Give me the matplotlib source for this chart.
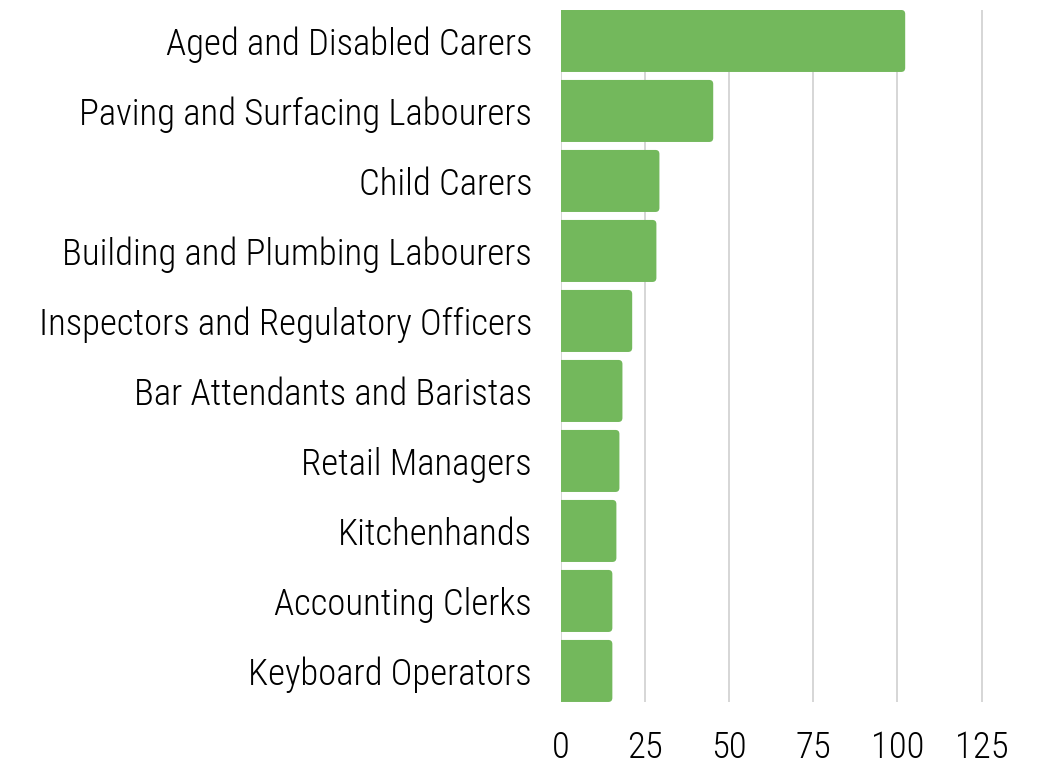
import matplotlib
matplotlib.use('Agg')
import matplotlib.pyplot as plt
from matplotlib.patches import FancyBboxPatch
from matplotlib import font_manager

occupations = [
    'Aged and Disabled Carers',
    'Paving and Surfacing Labourers',
    'Child Carers',
    'Building and Plumbing Labourers',
    'Inspectors and Regulatory Officers',
    'Bar Attendants and Baristas',
    'Retail Managers',
    'Kitchenhands',
    'Accounting Clerks',
    'Keyboard Operators',
]
values = [102.3, 45.2, 29.2, 28.3, 21.1, 18.2, 17.3, 16.4, 15.2, 15.2]
xticks = [0, 25, 50, 75, 100, 125]

# condensed font if there is one
names = {f.name for f in font_manager.fontManager.ttflist}
family = [n for n in ['Roboto Condensed', 'Liberation Sans Narrow', 'Roboto', 'DejaVu Sans'] if n in names]
plt.rcParams['font.family'] = family
plt.rcParams['font.weight'] = 'light'

bar_color = '#73b85c'

fig = plt.figure(figsize=(10.53, 7.65), dpi=100)
ax = fig.add_axes([0.533, 0.0824, 0.447, 0.9046])

bars = ax.barh(range(len(values)), values, height=0.886, color=bar_color)
# swap plain bars for rounded ones
for b in bars:
    b.set_visible(False)
    x, y = b.get_x(), b.get_y()
    w, h = b.get_width(), b.get_height()
    p = FancyBboxPatch((x - 2, y), w + 2, h,
                       boxstyle='round,pad=0,rounding_size=1.2',
                       mutation_aspect=0.048,
                       facecolor=bar_color, edgecolor='none', zorder=2)
    ax.add_patch(p)

ax.set_ylim(len(values) - 1 + 0.443, -0.443)
ax.set_xlim(0, 140)
ax.set_yticks(range(len(values)))
ax.set_yticklabels(occupations)
ax.set_xticks(xticks)

ax.grid(axis='x', color='#d0d0d0', linewidth=1.2, zorder=0)
ax.set_axisbelow(True)
for s in ax.spines.values():
    s.set_visible(False)
ax.tick_params(axis='both', length=0, labelsize=26.5, colors='#000000')
ax.tick_params(axis='y', pad=21)
ax.tick_params(axis='x', pad=20)

fig.savefig('out.png', dpi=100)
